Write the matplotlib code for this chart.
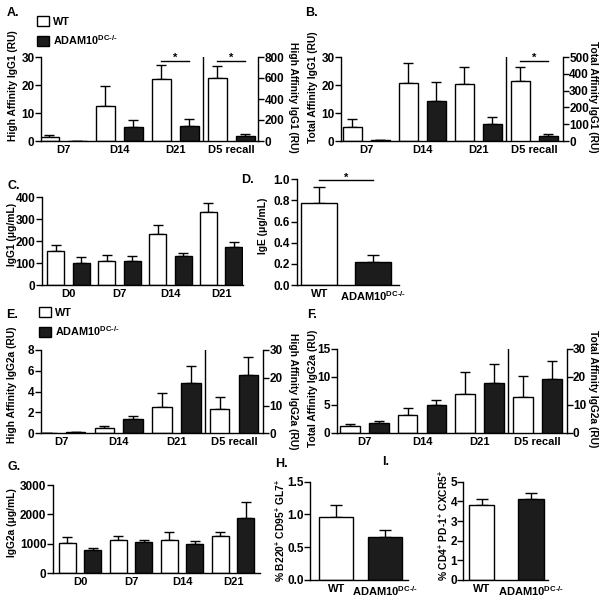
import matplotlib
matplotlib.use('Agg')
import matplotlib.pyplot as plt
from matplotlib.patches import Patch
import numpy as np

plt.rcParams['font.family'] = 'Liberation Sans'
plt.rcParams['font.weight'] = 'bold'
plt.rcParams['font.size'] = 7.5
plt.rcParams['mathtext.fontset'] = 'custom'
plt.rcParams['mathtext.rm'] = 'Liberation Sans:bold'
plt.rcParams['mathtext.it'] = 'Liberation Sans:bold'
plt.rcParams['mathtext.bf'] = 'Liberation Sans:bold'
plt.rcParams['mathtext.default'] = 'rm'

W, H = 604, 601
KO = 'ADAM10$^{\\text{DC-/-}}$'

# ---- data ----
days_ab = ['D7', 'D14', 'D21', 'D5 recall']
days_cg = ['D0', 'D7', 'D14', 'D21']
groups2 = ['WT', KO]

# A: high affinity IgG1 (D5 recall on right axis)
a_wt = [1.5, 12.5, 22.0]
a_wt_err = [0.6, 7.2, 5.1]
a_ko = [0.05, 5.1, 5.4]
a_ko_err = [0.0, 2.3, 2.4]
a_rec_wt, a_rec_wt_err = 600, 110
a_rec_ko, a_rec_ko_err = 45, 20

# B: total affinity IgG1
b_wt = [5.1, 20.8, 20.3]
b_wt_err = [2.6, 7.1, 6.1]
b_ko = [0.4, 14.4, 5.9]
b_ko_err = [0.0, 6.6, 2.8]
b_rec_wt, b_rec_wt_err = 360, 80
b_rec_ko, b_rec_ko_err = 28, 13

# C: IgG1 ug/mL
c_wt = [157, 108, 231, 335]
c_wt_err = [24, 27, 41, 41]
c_ko = [100, 108, 131, 172]
c_ko_err = [26, 23, 15, 23]

# D: IgE
d_val = [0.78, 0.22]
d_err = [0.15, 0.065]

# E: high affinity IgG2a
e_wt = [0.0, 0.55, 2.55]
e_wt_err = [0.0, 0.17, 1.3]
e_ko = [0.1, 1.35, 4.8]
e_ko_err = [0.05, 0.3, 1.67]
e_rec_wt, e_rec_wt_err = 8.6, 4.4
e_rec_ko, e_rec_ko_err = 21.0, 6.3

# F: total affinity IgG2a
f_wt = [1.2, 3.2, 6.95]
f_wt_err = [0.3, 1.2, 4.0]
f_ko = [1.8, 5.0, 8.9]
f_ko_err = [0.35, 0.9, 3.4]
f_rec_wt, f_rec_wt_err = 12.7, 7.6
f_rec_ko, f_rec_ko_err = 19.1, 6.6

# G: IgG2a ug/mL
g_wt = [1045, 1136, 1136, 1270]
g_wt_err = [185, 134, 264, 140]
g_ko = [795, 1057, 989, 1875]
g_ko_err = [69, 79, 125, 555]

# H, I
h_val = [0.96, 0.65]
h_err = [0.18, 0.12]
i_val = [3.84, 4.1]
i_err = [0.27, 0.35]

BLACK = '#1c1c1c'
LW = 1.0
YT = 8.5   # y tick label size
XT = 8.0   # x tick label size

fig = plt.figure(figsize=(6.04, 6.01), dpi=100)


def px_axes(l, t, r, b):
    return fig.add_axes([l / W, 1 - b / H, (r - l) / W, (b - t) / H])


def ftext(x, y, s, **kw):
    fig.text(x / W, 1 - y / H, s, **kw)


def style(ax, ylim, yticks, xlim, fmt=None):
    ax.set_xlim(*xlim)
    ax.set_ylim(*ylim)
    ax.set_yticks(yticks)
    if fmt:
        ax.set_yticklabels([fmt % v for v in yticks])
    ax.spines['top'].set_visible(False)
    ax.spines['right'].set_visible(False)
    ax.spines['left'].set_linewidth(LW)
    ax.spines['bottom'].set_linewidth(LW)
    ax.tick_params(axis='y', length=4, width=LW, pad=0.5, labelsize=YT)
    ax.tick_params(axis='x', length=0, pad=3, labelsize=XT)


def pair(ax, x, wt, wt_err, ko, ko_err, width, off=0.25):
    x = np.asarray(x, dtype=float)
    ax.bar(x - off, wt, width, color='white', edgecolor='black', linewidth=LW, zorder=2)
    ax.bar(x + off, ko, width, color=BLACK, edgecolor='black', linewidth=LW, zorder=2)
    ax.errorbar(x - off, wt, yerr=[np.zeros(len(x)), wt_err], fmt='none', ecolor='black',
                elinewidth=LW, capsize=3.5, capthick=LW, zorder=1)
    ax.errorbar(x + off, ko, yerr=[np.zeros(len(x)), ko_err], fmt='none', ecolor='black',
                elinewidth=LW, capsize=3.5, capthick=LW, zorder=1)


def single(ax, vals, errs, width):
    x = np.arange(len(vals))
    ax.bar(x, vals, width, color=['white', BLACK], edgecolor='black', linewidth=LW, zorder=2)
    ax.errorbar(x, vals, yerr=[np.zeros(len(x)), errs], fmt='none', ecolor='black',
                elinewidth=LW, capsize=4.5, capthick=LW, zorder=1)
    ax.set_xticks(x)
    ax.set_xticklabels(groups2)


def sig(ax, x0, x1, y):
    ax.plot([x0, x1], [y, y], color='black', lw=LW, clip_on=False)
    ax.text((x0 + x1) / 2, y, '*', ha='center', va='baseline', fontsize=8)


def recall_panel(rect, wt, wt_err, ko, ko_err, rwt, rwt_err, rko, rko_err,
                 ylim, yticks, rylim, ryticks, xlim):
    ax = px_axes(*rect)
    x = np.arange(3)
    pair(ax, x, wt, wt_err, ko, ko_err, 0.34)
    style(ax, ylim, yticks, xlim)
    ax.set_xticks(np.arange(4))
    ax.set_xticklabels(days_ab)
    ax2 = ax.twinx()
    pair(ax2, [3], [rwt], [rwt_err], [rko], [rko_err], 0.34)
    ax2.set_ylim(*rylim)
    ax2.set_yticks(ryticks)
    for s in ['top', 'left', 'bottom']:
        ax2.spines[s].set_visible(False)
    ax2.spines['right'].set_linewidth(LW)
    ax2.tick_params(axis='y', length=4, width=LW, pad=0.5, labelsize=YT)
    ax.axvline(2.5, color='black', lw=LW)
    return ax, ax2


# ---- A ----
axA, axA2 = recall_panel((40.7, 57, 258.3, 141), a_wt, a_wt_err, a_ko, a_ko_err,
                         a_rec_wt, a_rec_wt_err, a_rec_ko, a_rec_ko_err,
                         (0, 30), [0, 10, 20, 30], (0, 800), [0, 200, 400, 600, 800],
                         (-0.407, 3.48))
sig(axA, 1.75, 2.25, 28.7)
sig(axA, 2.75, 3.25, 28.7)

# ---- B ----
axB, axB2 = recall_panel((340.7, 57, 563, 141), b_wt, b_wt_err, b_ko, b_ko_err,
                         b_rec_wt, b_rec_wt_err, b_rec_ko, b_rec_ko_err,
                         (0, 30), [0, 10, 20, 30], (0, 500), [0, 100, 200, 300, 400, 500],
                         (-0.46, 3.51))
sig(axB, 2.75, 3.25, 28.6)

# ---- C ----
axC = px_axes(41.7, 197.3, 243, 285)
pair(axC, np.arange(4), c_wt, c_wt_err, c_ko, c_ko_err, 0.335)
style(axC, (0, 400), [0, 100, 200, 300, 400], (-0.53, 3.43))
axC.set_xticks(np.arange(4))
axC.set_xticklabels(days_cg)

# ---- D ----
axD = px_axes(296.5, 179.3, 399, 285)
single(axD, d_val, d_err, 0.67)
style(axD, (0, 1.0), [0, 0.2, 0.4, 0.6, 0.8, 1.0], (-0.42, 1.48), fmt='%.1f')
sig(axD, 0, 1, 0.99)

# ---- E ----
axE, axE2 = recall_panel((40.7, 350, 263.3, 433.3), e_wt, e_wt_err, e_ko, e_ko_err,
                         e_rec_wt, e_rec_wt_err, e_rec_ko, e_rec_ko_err,
                         (0, 8), [0, 2, 4, 6, 8], (0, 30), [0, 10, 20, 30],
                         (-0.357, 3.51))

# ---- F ----
axF, axF2 = recall_panel((336.7, 349, 566.7, 432.7), f_wt, f_wt_err, f_ko, f_ko_err,
                         f_rec_wt, f_rec_wt_err, f_rec_ko, f_rec_ko_err,
                         (0, 15), [0, 5, 10, 15], (0, 30), [0, 10, 20, 30],
                         (-0.48, 3.51))

# ---- G ----
axG = px_axes(52.7, 485, 260, 573.3)
pair(axG, np.arange(4), g_wt, g_wt_err, g_ko, g_ko_err, 0.335)
style(axG, (0, 3000), [0, 1000, 2000, 3000], (-0.54, 3.53))
axG.set_xticks(np.arange(4))
axG.set_xticklabels(days_cg)

# ---- H ----
axH = px_axes(310, 481.7, 408, 580)
single(axH, h_val, h_err, 0.7)
style(axH, (0, 1.5), [0, 0.5, 1.0, 1.5], (-0.54, 1.48), fmt='%.1f')

# ---- I ----
axI = px_axes(463.3, 481.7, 548, 580)
single(axI, i_val, i_err, 0.52)
style(axI, (0, 5), [0, 1, 2, 3, 4, 5], (-0.375, 1.35))

# ---- legends ----
handles = [Patch(facecolor='white', edgecolor='black', linewidth=LW),
           Patch(facecolor=BLACK, edgecolor='black', linewidth=LW)]
for lx, ly in [(37, 16), (39, 307)]:
    fig.legend(handles, ['WT', KO], loc='upper left', bbox_to_anchor=(lx / W, 1 - ly / H),
               bbox_transform=fig.transFigure, frameon=False, handlelength=1.1,
               handleheight=1.1, handletextpad=0.4, labelspacing=0.55, borderpad=0,
               borderaxespad=0, fontsize=7.8)

# ---- axis titles ----
lab = dict(fontsize=7.4, ha='center', va='center')
ftext(12.5, 86, 'High Affinity IgG1 (RU)', rotation=90, **lab)
ftext(292.5, 97, 'High Affinity IgG1 (RU)', rotation=270, **lab)
ftext(313, 87, 'Total Affinity IgG1 (RU)', rotation=90, **lab)
ftext(592.7, 97, 'Total Affinity IgG1 (RU)', rotation=270, **lab)
ftext(12, 234, 'IgG1 (\u03bcg/mL)', rotation=90, **lab)
ftext(263, 226, 'IgE (\u03bcg/mL)', rotation=90, **lab)
ftext(12, 385, 'High Affinity IgG2a (RU)', rotation=90, **lab)
ftext(293, 391, 'High Affinity IgG2a (RU)', rotation=270, **lab)
ftext(313, 388, 'Total Affinity IgG2a (RU)', rotation=90, **lab)
ftext(593, 389, 'Total Affinity IgG2a (RU)', rotation=270, **lab)
ftext(12, 523, 'IgG2a (\u03bcg/mL)', rotation=90, **lab)
ftext(280, 530, '% B220$^{+}$ CD95$^{+}$ GL7$^{+}$', rotation=90, **lab)
ftext(443, 525, '% CD4$^{+}$ PD-1$^{+}$ CXCR5$^{+}$', rotation=90, **lab)

# ---- panel letters ----
for s, x, y in [('A.', 7, 13), ('B.', 305, 13), ('C.', 7, 186), ('D.', 241, 180),
                ('E.', 6, 315), ('F.', 307, 315), ('G.', 7, 467), ('H.', 275, 464),
                ('I.', 382, 462)]:
    ftext(x, y, s, fontsize=9, ha='left', va='center')

fig.savefig('out.png', dpi=100)
